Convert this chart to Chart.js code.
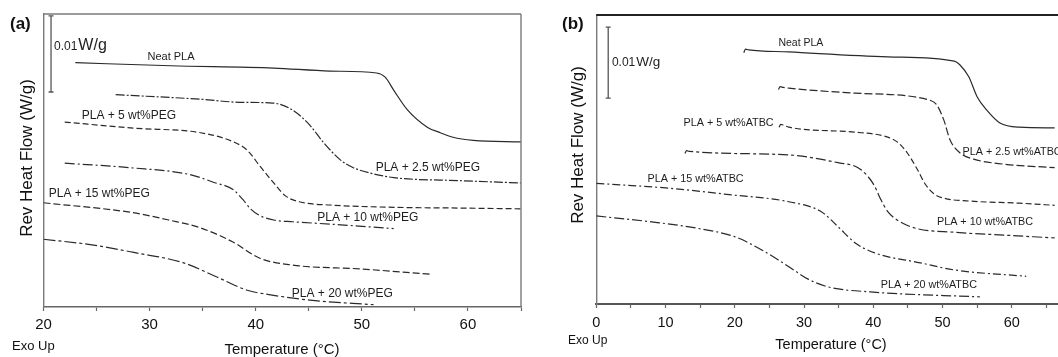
<!DOCTYPE html>
<html>
<head>
<meta charset="utf-8">
<script src="https://cdn.jsdelivr.net/npm/chart.js@4.4.1/dist/chart.umd.min.js"></script>
<style>
  html, body { margin: 0; padding: 0; background: #fff; overflow: hidden; }
  #wrap { position: relative; width: 1058px; height: 357px; overflow: hidden; }
  .panel { position: absolute; top: 0; height: 357px; }
  #panelA { left: 0; width: 530px; }
  #panelB { left: 530px; width: 565px; }
</style>
</head>
<body>
<div id="wrap">
  <div class="panel" id="panelA"><canvas id="chartA" width="530" height="357"></canvas></div>
  <div class="panel" id="panelB"><canvas id="chartB" width="565" height="357"></canvas></div>
</div>
<script>
// Reversing heat flow curves, shifted vertically (units of 0.001 W/g)

// (a) PLA + PEG
const pegNames = ['Neat PLA', 'PLA + 2.5 wt%PEG', 'PLA + 5 wt%PEG', 'PLA + 10 wt%PEG', 'PLA + 15 wt%PEG', 'PLA + 20 wt%PEG'];
const pegNeatTemp = [23, 32, 41.7, 47, 51.4, 52.2, 53.0, 54.3, 56.2, 57.4, 58.6, 60.5, 65];
const pegNeatFlow = [32.1, 31.7, 31.4, 31.0, 30.75, 30.2, 28.5, 25.9, 23.6, 22.9, 22.3, 21.9, 21.7];
const peg25Temp = [26.8, 34.8, 38.5, 41.6, 43.2, 44.9, 46.4, 48.0, 49.2, 50.8, 53.0, 59.3, 65];
const peg25Flow = [27.9, 27.3, 26.9, 26.8, 26.1, 24.2, 21.6, 19.3, 18.3, 17.6, 17.0, 16.6, 16.3];
const peg5Temp = [22.0, 28.5, 34.8, 37.9, 39.2, 40.4, 41.7, 42.8, 44.2, 47.0, 53.0, 59.3, 65];
const peg5Flow = [24.3, 23.5, 22.9, 21.7, 20.6, 18.5, 16.3, 14.6, 13.8, 13.4, 13.1, 13.0, 12.9];
const peg10Temp = [22.0, 28.2, 33.8, 36.0, 37.9, 38.8, 39.5, 40.4, 41.8, 43.5, 48.0, 53.0];
const peg10Flow = [18.9, 18.3, 17.4, 16.4, 15.4, 14.1, 12.9, 12.0, 11.4, 11.2, 10.8, 10.3];
const peg15Temp = [20, 28.4, 31.9, 34.8, 37.9, 40.4, 43.5, 49.9, 56.5];
const peg15Flow = [13.7, 12.4, 11.4, 10.4, 8.5, 6.4, 5.5, 5.0, 4.3];
const peg20Temp = [20, 24.4, 28.4, 33.2, 36.4, 39.2, 41.4, 45.1, 51.1];
const peg20Flow = [8.9, 8.2, 7.2, 5.8, 3.9, 2.2, 1.6, 0.9, 0.3];

// (b) PLA + ATBC
const atbcNames = ['Neat PLA', 'PLA + 2.5 wt%ATBC', 'PLA + 5 wt%ATBC', 'PLA + 10 wt%ATBC', 'PLA + 15 wt%ATBC', 'PLA + 20 wt%ATBC'];
const atbcNeatTemp = [21.3, 21.55, 22.0, 27.8, 42.1, 51.7, 52.5, 53.8, 55.0, 56.4, 58.3, 61.1, 66.2];
const atbcNeatFlow = [35.4, 35.9, 35.8, 35.5, 34.8, 34.2, 33.7, 32.0, 29.2, 27.3, 25.5, 24.9, 24.8];
const atbc25Temp = [26.3, 26.55, 27.0, 27.8, 37.3, 48.2, 49.2, 50.2, 51.1, 52.5, 54.5, 58.8, 66.2];
const atbc25Flow = [30.2, 30.6, 30.5, 30.4, 29.7, 28.7, 28.0, 25.9, 23.1, 21.3, 20.4, 19.7, 19.2];
const atbc5Temp = [26.4, 26.65, 27.0, 27.8, 37.4, 42.1, 43.5, 44.9, 46.4, 47.5, 48.8, 50.2, 53.9, 61.1, 66.2];
const atbc5Flow = [24.9, 25.3, 25.2, 24.9, 24.2, 23.5, 22.8, 21.3, 18.9, 16.9, 15.5, 14.9, 14.5, 14.2, 13.9];
const atbc10Temp = [12.8, 13.05, 13.4, 27.8, 34.9, 37.8, 39.2, 40.2, 41.1, 42.1, 43.5, 46.0, 51.7, 58.9, 66.2];
const atbc10Flow = [21.2, 21.6, 21.5, 21.0, 19.9, 19.2, 18.0, 16.6, 14.7, 13.0, 11.8, 10.7, 10.1, 9.7, 9.3];
const atbc15Temp = [0, 10.6, 19.2, 27.8, 32.5, 34.9, 37.4, 40.2, 46.8, 51.7, 62.1];
const atbc15Flow = [17.0, 16.3, 15.4, 14.4, 13.0, 10.9, 8.6, 7.2, 5.8, 4.8, 3.9];
const atbc20Temp = [0, 7.7, 14.4, 20.2, 23.9, 26.3, 28.5, 30.6, 33.5, 39.6, 55.4];
const atbc20Flow = [12.4, 11.6, 10.7, 9.4, 7.6, 6.2, 4.8, 3.5, 2.4, 1.7, 1.0];

// length of the scale bar, 0.01 W/g
const scaleBarSize = 10;

const FONT = '"Liberation Sans", Arial, sans-serif';
const INK = '#2a2a2a';

function curve(temp, flow, dash) {
    return {
        data: temp.map((t, i) => ({ x: t, y: flow[i] })),
        borderColor: INK,
        borderWidth: 1.2,
        borderDash: dash,
        pointRadius: 0,
        cubicInterpolationMode: 'monotone',
        fill: false,
    };
}

function scaleBar(x, top) {
    return {
        data: [{ x: x, y: top }, { x: x, y: top - scaleBarSize }],
        borderColor: '#555',
        borderWidth: 1.3,
        pointStyle: 'line',
        pointRadius: 2.5,
        pointBorderColor: '#555',
        pointBorderWidth: 1.3,
    };
}

// texts, frame lines and curve names drawn on top of the chart
function decor(cfg) {
    return {
        id: 'decor',
        afterDraw(chart) {
            const { ctx, chartArea: a, scales: { x, y } } = chart;
            ctx.save();

            cfg.frame.forEach(f => {
                ctx.strokeStyle = f.color;
                ctx.lineWidth = f.width;
                ctx.beginPath();
                if (f.side === 'top') {
                    ctx.moveTo(a.left, a.top);
                    ctx.lineTo(a.right, a.top);
                } else {
                    ctx.moveTo(a.right, a.top);
                    ctx.lineTo(a.right, a.bottom);
                }
                ctx.stroke();
            });

            ctx.fillStyle = '#1e1e1e';
            ctx.textBaseline = 'middle';
            ctx.textAlign = 'left';
            cfg.names.forEach((name, i) => {
                ctx.font = (i === 0 ? cfg.neatSize : cfg.nameSize) + 'px ' + FONT;
                ctx.fillText(name, x.getPixelForValue(cfg.nameAt[i][0]), y.getPixelForValue(cfg.nameAt[i][1]));
            });

            // scale bar caption
            const sx = x.getPixelForValue(cfg.barText[0]);
            const sy = y.getPixelForValue(cfg.barText[1]);
            ctx.font = '12px ' + FONT;
            ctx.fillText('0.01', sx, sy + 1);
            const w = ctx.measureText('0.01').width;
            ctx.font = cfg.unitSize + 'px ' + FONT;
            ctx.fillText('W/g', sx + w + 1, sy);

            ctx.fillStyle = '#111';
            ctx.font = 'bold 17px ' + FONT;
            ctx.fillText(cfg.letter, cfg.letterAt[0], cfg.letterAt[1]);

            ctx.font = cfg.exoSize + 'px ' + FONT;
            ctx.fillText('Exo Up', cfg.exoAt[0], cfg.exoAt[1]);

            ctx.textAlign = 'center';
            ctx.font = cfg.xTitleSize + 'px ' + FONT;
            ctx.fillText('Temperature (°C)', cfg.xTitleAt[0], cfg.xTitleAt[1]);

            ctx.translate(cfg.yTitleAt[0], cfg.yTitleAt[1]);
            ctx.rotate(-Math.PI / 2);
            ctx.font = '17px ' + FONT;
            ctx.fillText('Rev Heat Flow (W/g)', 0, 0);
            ctx.restore();
        },
    };
}

function makeChart(id, datasets, s, cfg) {
    new Chart(document.getElementById(id), {
        type: 'line',
        data: { datasets: datasets },
        options: {
            responsive: false,
            animation: false,
            events: [],
            layout: { padding: s.padding },
            plugins: { legend: { display: false }, tooltip: { enabled: false } },
            scales: {
                x: {
                    type: 'linear',
                    min: s.xMin,
                    max: s.xMax,
                    afterFit: scale => { scale.height = s.xHeight; },
                    grid: {
                        display: true,
                        drawOnChartArea: false,
                        drawTicks: true,
                        tickLength: 4,
                        tickColor: '#666',
                        tickWidth: 1.2,
                    },
                    border: { display: true, color: s.bottomColor, width: s.bottomWidth },
                    ticks: {
                        stepSize: 5,
                        autoSkip: false,
                        maxRotation: 0,
                        padding: s.tickPad,
                        color: '#111',
                        font: { family: FONT, size: s.tickSize },
                        callback: v => (v % 10 === 0 ? v : ''),
                    },
                },
                y: {
                    type: 'linear',
                    min: 0,
                    max: s.yMax,
                    afterFit: scale => { scale.width = s.yWidth; },
                    grid: { display: false },
                    border: { display: true, color: '#7a7a7a', width: 1.4 },
                    ticks: { display: false },
                },
            },
        },
        plugins: [decor(cfg)],
    });
}

makeChart('chartA', [
    scaleBar(20.71, 38.25),
    curve(pegNeatTemp, pegNeatFlow, []),
    curve(peg25Temp, peg25Flow, [9, 2, 2, 2]),
    curve(peg5Temp, peg5Flow, [6, 3]),
    curve(peg10Temp, peg10Flow, [10, 3, 2, 3]),
    curve(peg15Temp, peg15Flow, [7, 3]),
    curve(peg20Temp, peg20Flow, [12, 3, 3, 3]),
], {
    padding: { top: 14, right: 9, left: 0, bottom: 0 },
    xMin: 20, xMax: 65, xHeight: 50, yWidth: 43.5, yMax: 38.5,
    tickPad: 5, tickSize: 15, bottomColor: '#666', bottomWidth: 1.6,
}, {
    names: pegNames,
    nameAt: [[29.8, 32.9], [51.3, 18.3], [23.6, 25.2], [45.8, 11.8], [20.5, 14.9], [43.4, 1.8]],
    neatSize: 11, nameSize: 12,
    barText: [20.99, 34.4], unitSize: 16,
    frame: [{ side: 'top', color: '#7a7a7a', width: 1.6 }, { side: 'right', color: '#7a7a7a', width: 1.4 }],
    letter: '(a)', letterAt: [10, 24],
    exoAt: [12, 346], exoSize: 13,
    xTitleAt: [282, 350], xTitleSize: 15,
    yTitleAt: [27, 158],
});

makeChart('chartB', [
    scaleBar(1.72, 39.0),
    curve(atbcNeatTemp, atbcNeatFlow, []),
    curve(atbc25Temp, atbc25Flow, [8, 3]),
    curve(atbc5Temp, atbc5Flow, [6, 3]),
    curve(atbc10Temp, atbc10Flow, [10, 3, 3, 3]),
    curve(atbc15Temp, atbc15Flow, [8, 3, 2, 3]),
    curve(atbc20Temp, atbc20Flow, [10, 3, 2, 3]),
], {
    padding: { top: 15, right: 10, left: 0, bottom: 0 },
    xMin: 0, xMax: 70, xHeight: 53, yWidth: 66.3, yMax: 40.7,
    tickPad: 6, tickSize: 14.5, bottomColor: '#555', bottomWidth: 2,
}, {
    names: atbcNames,
    nameAt: [[26.3, 36.8], [52.9, 21.4], [12.6, 25.5], [49.2, 11.6], [7.4, 17.6], [41.1, 2.7]],
    neatSize: 10.5, nameSize: 10.8,
    barText: [2.25, 34.1], unitSize: 13.5,
    frame: [{ side: 'top', color: '#222', width: 2 }],
    letter: '(b)', letterAt: [32, 24],
    exoAt: [38, 341], exoSize: 12,
    xTitleAt: [301, 345], xTitleSize: 14.5,
    yTitleAt: [48, 145],
});
</script>
</body>
</html>
